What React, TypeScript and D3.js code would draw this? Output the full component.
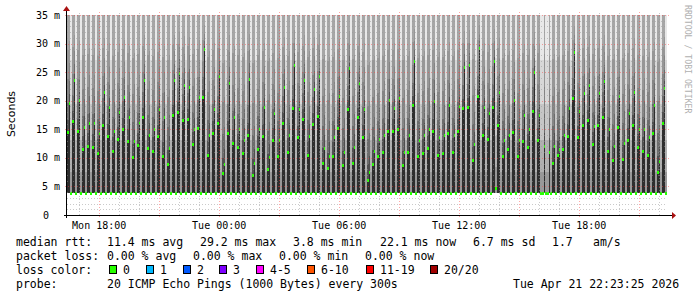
import React from 'react';
import * as d3 from 'd3';

// ---------- data ----------
const END_TIME = new Date(2026, 3, 21, 22, 23, 25);
const STEP_SECONDS = 300;
const STEP_COUNT = 360;

// median rtt (ms) per 15-minute group: first step, second step, third step
const MED_LOW = [
  14.5, 16.3, 14.7, 11.5, 12, 11.9, 10.8, 15.7, 13.8, 11.2, 13.3, 15, 12.8, 10, 12.1, 17, 11.6, 11.2, 13.7, 10.3,
  8.8, 17.5, 18, 16.5, 16.8, 12.3, 15.2, 20.5, 10.5, 14.3, 16, 7.2, 14.3, 12.6, 11.9, 10.7, 14, 7, 11.4, 13.8,
  7.9, 13.1, 10.2, 16.1, 11, 18.7, 13.5, 16.8, 10.5, 15.9, 17.3, 9.1, 8.1, 10.3, 15.2, 8.6, 18.5, 9.1, 17, 13.6,
  6.1, 8.8, 10.2, 10.9, 14.7, 14.7, 15, 8.6, 11, 19.2, 10.2, 10.8, 11.7, 14.7, 10.5, 10.7, 14.2, 11, 14.7, 18.7,
  18.9, 9.6, 20.7, 14, 13.3, 18.9, 15.6, 10.2, 11.4, 14.5, 10.2, 12.9, 11.9, 18.2, 13, 3.8, 3.8, 9.1, 10.5, 11.5,
  13.8, 20.4, 13.5, 15.6, 16.5, 12.3, 15.6, 17, 11.2, 9.5, 15.4, 9.8, 13, 15.6, 11.9, 11.2, 10.5, 14.2, 7.5, 16.1,
];
const MED_HIGH = [
  19.6, 23.5, 20, 15.4, 16, 16, 14.2, 21.4, 18.9, 14.7, 18, 20.5, 17, 12.9, 16, 23.6, 14, 14.9, 18.5, 17,
  11.6, 23.5, 24.8, 22.7, 22.4, 15, 20.6, 28.9, 14, 18.4, 24.3, 8.9, 23.1, 17, 15, 13, 23.8, 9, 15, 18.9,
  10, 17.8, 13, 22.4, 14, 26.1, 18.4, 23.5, 13.8, 22, 24.2, 11.7, 10.3, 13.6, 20.7, 11, 25.6, 11.9, 23.1, 18.5,
  7.5, 11.2, 13.3, 14, 20.1, 18.7, 20.4, 11, 14, 26.8, 13, 14, 15, 19.8, 13.5, 14, 19.1, 14, 19, 25.9,
  26.1, 12.3, 29.1, 18.9, 17.7, 26.8, 21.4, 13.1, 14, 20, 13, 17.5, 15, 25, 17.5, 12, 11, 12, 11.5, 14,
  18.7, 28.5, 18.2, 21.2, 22.6, 15.5, 21.2, 23.3, 14.9, 12, 20.8, 12.6, 17.7, 21.4, 15, 14.9, 13.5, 19.1, 9.3, 22.2,
];
const MED_BASE = [
  3.8, 3.8, 3.8, 3.8, 3.8, 3.8, 3.8, 3.8, 3.8, 3.8, 3.8, 3.8, 3.8, 3.8, 3.8, 3.8, 3.8, 3.8, 3.8, 3.8,
  3.8, 3.8, 3.8, 3.8, 3.8, 3.8, 3.8, 3.8, 3.8, 3.8, 3.8, 3.8, 3.8, 3.8, 3.8, 3.8, 3.8, 3.8, 3.8, 3.8,
  3.8, 3.8, 3.8, 3.8, 3.8, 3.8, 3.8, 3.8, 3.8, 3.8, 3.8, 3.8, 3.8, 3.8, 3.8, 3.8, 3.8, 3.8, 3.8, 3.8,
  3.8, 3.8, 3.8, 3.8, 3.8, 3.8, 3.8, 3.8, 3.8, 3.8, 3.8, 3.8, 3.8, 3.8, 3.8, 3.8, 3.8, 3.8, 3.8, 3.8,
  3.8, 3.8, 3.8, 3.8, 3.8, 4.7, 3.8, 3.8, 3.8, 3.8, 3.8, 3.8, 3.8, 3.8, 3.8, 3.8, 3.8, 3.8, 3.8, 3.8,
  3.8, 3.8, 3.8, 3.8, 3.8, 3.8, 3.8, 3.8, 3.8, 3.8, 3.8, 3.8, 3.8, 3.8, 3.8, 3.8, 3.8, 3.8, 3.8, 3.8,
];
const MIN_RTT = 3.8;

const Y_TICKS = [0, 5, 10, 15, 20, 25, 30, 35];
const Y_TICK_LABELS = ['0', '5 m', '10 m', '15 m', '20 m', '25 m', '30 m', '35 m'];
const X_LABEL_TIMES = [
  new Date(2026, 3, 20, 18), new Date(2026, 3, 21, 0), new Date(2026, 3, 21, 6),
  new Date(2026, 3, 21, 12), new Date(2026, 3, 21, 18),
];

const STAT_RTT = ['median rtt:', '11.4 ms avg', '29.2 ms max', '3.8 ms min', '22.1 ms now', '6.7 ms sd', '1.7', 'am/s'];
const STAT_LOSS = ['packet loss:', '0.00 % avg', '0.00 % max', '0.00 % min', '0.00 % now'];
const LOSS_LABELS = ['0', '1', '2', '3', '4-5', '6-10', '11-19', '20/20'];
const LOSS_COLORS = ['#26ff00', '#00b8ff', '#0059ff', '#7e00ff', '#ff00ff', '#ff5500', '#ff0000', '#a10000'];
const PROBE_TEXT = ['probe:', '20 ICMP Echo Pings (1000 Bytes) every 300s', 'Tue Apr 21 22:23:25 2026'];

// ---------- layout / style ----------
const PL = 67, PR = 667, PT = 15, PB = 215;
const MONO = '"DejaVu Sans Mono", "Liberation Mono", monospace';
const DARK_BANDS: [number, string][] = [
  [1.15, '#a6a6a6'], [0.7, '#969696'], [0.45, '#848484'], [0.25, '#6c6c6c'], [0.1, '#505050'],
];
const LIGHT_BANDS: [number, string][] = [
  [1.15, '#e8e8e8'], [0.75, '#d8d8d8'], [0.5, '#c6c6c6'], [0.3, '#b0b0b0'], [0.12, '#989898'],
];

export default function App() {
  const start = new Date(END_TIME.getTime() - STEP_COUNT * STEP_SECONDS * 1000);
  const x = d3.scaleTime().domain([start, END_TIME]).range([PL, PR]);
  const y = d3.scaleLinear().domain([0, 35]).range([PB, PT]);
  const fmt = d3.timeFormat('%a %H:%M');

  type Step = { k: number; m: number };
  const steps: Step[] = [];
  MED_LOW.forEach((v, p) => {
    steps.push({ k: 3 * p, m: v });
    steps.push({ k: 3 * p + 1, m: MED_HIGH[p] });
    steps.push({ k: 3 * p + 2, m: MED_BASE[p] });
  });
  const tx = (k: number) => x(new Date(start.getTime() + k * STEP_SECONDS * 1000));

  const smoke: React.ReactNode[] = [];
  const dots: React.ReactNode[] = [];
  steps.forEach((s) => {
    const x0 = tx(s.k), x1 = tx(s.k + 1);
    const w = x1 - x0;
    const light = s.m < 5;
    const bands = light ? LIGHT_BANDS : DARK_BANDS;
    const top = 35;
    bands.forEach(([f, c], i) => {
      const hi = s.m + (top - s.m) * f;
      smoke.push(<rect key={`b${s.k}-${i}`} x={x0} width={w} y={y(hi)} height={y(MIN_RTT) - y(hi)} fill={c} />);
    });
    if (!light) {
      smoke.push(<rect key={`c${s.k}`} x={x0} width={w} y={y(s.m)} height={y(MIN_RTT) - y(s.m)} fill="#2e2e2e" />);
    }
    dots.push(<rect key={`d${s.k}`} x={x0} width={w} y={y(s.m) - 1.5} height={3} fill={LOSS_COLORS[0]} />);
  });

  const minorY = d3.range(1, 36).filter((v) => v % 5 !== 0);
  const hourTicks = x.ticks(d3.timeHour.every(1) as any);

  const rttX = [16, 107, 200, 293, 380, 473, 552, 593];
  const lossX = [16, 107, 193, 279, 365];
  const boxX = [109, 146, 183, 219, 256, 307, 366, 430];
  const row = [245.5, 259.5, 273.5, 287.5];

  return (
    <svg width={697} height={297} style={{ position: 'absolute', left: 0, top: 0, background: '#fff' }}>
      <defs>
        <clipPath id="plot">
          <rect x={PL} y={PT} width={PR - PL} height={PB - PT} />
        </clipPath>
      </defs>
      <rect x={0} y={0} width={697} height={297} fill="#fff" />
      <g clipPath="url(#plot)" shapeRendering="crispEdges">
        {smoke}
        {dots}
      </g>
      {/* grid */}
      <g shapeRendering="crispEdges">
        {minorY.map((v) => (
          <line key={`hy${v}`} x1={PL} x2={PR} y1={Math.round(y(v)) + 0.5} y2={Math.round(y(v)) + 0.5}
            stroke="rgba(150,150,150,0.5)" strokeDasharray="1,2" />
        ))}
        {hourTicks.filter((t) => t.getHours() % 3 !== 0).map((t, i) => (
          <line key={`vx${i}`} y1={PT - 2} y2={PB} x1={Math.round(x(t)) + 0.5} x2={Math.round(x(t)) + 0.5}
            stroke="rgba(150,150,150,0.5)" strokeDasharray="1,2" />
        ))}
        {Y_TICKS.filter((v) => v > 0).map((v) => (
          <line key={`my${v}`} x1={PL - 2} x2={PR + 2} y1={Math.round(y(v)) + 0.5} y2={Math.round(y(v)) + 0.5}
            stroke="rgba(255,60,60,0.45)" strokeDasharray="1,2" />
        ))}
        {hourTicks.filter((t) => t.getHours() % 3 === 0).map((t, i) => (
          <line key={`mx${i}`} y1={PT - 3} y2={PB + 3} x1={Math.round(x(t)) + 0.5} x2={Math.round(x(t)) + 0.5}
            stroke="rgba(255,60,60,0.45)" strokeDasharray="1,2" />
        ))}
      </g>
      {/* axes */}
      <g shapeRendering="crispEdges">
        <line x1={PL - 3} x2={PR + 5} y1={PB + 0.5} y2={PB + 0.5} stroke="#000" />
        <line x1={PL - 0.5} x2={PL - 0.5} y1={PB + 3} y2={PT - 4} stroke="#000" />
      </g>
      <path d={`M${PR + 5},${PB - 3} L${PR + 9},${PB + 0.5} L${PR + 5},${PB + 4} Z`} fill="#a11" />
      <path d={`M${PL - 4},${PT - 4} L${PL - 0.5},${PT - 9} L${PL + 3},${PT - 4} Z`} fill="#a11" />
      {/* y labels */}
      {Y_TICKS.map((v, i) => (
        <text key={`yl${v}`} x={Y_TICK_LABELS[i].includes('m') ? 60 : 49} y={y(v) + 3.5} textAnchor="end"
          fontFamily={MONO} fontSize={10} fill="#000">{Y_TICK_LABELS[i]}</text>
      ))}
      {X_LABEL_TIMES.map((t, i) => (
        <text key={`xl${i}`} x={x(t)} y={229} textAnchor="middle" fontFamily={MONO} fontSize={10} fill="#000">{fmt(t)}</text>
      ))}
      <text transform="translate(15,114) rotate(-90)" textAnchor="middle" fontFamily='"DejaVu Sans", sans-serif'
        fontSize={11} fill="#000">Seconds</text>
      <text transform="translate(685,5) rotate(90)" textAnchor="start" fontFamily={MONO} fontSize={8.2}
        fill="#b0b0b0">RRDTOOL / TOBI OETIKER</text>
      {/* legend */}
      <g fontFamily={MONO} fontSize={11.5} fill="#000" style={{ whiteSpace: 'pre' }}>
        {STAT_RTT.map((s, i) => <text key={`r${i}`} x={rttX[i]} y={row[0]}>{s}</text>)}
        {STAT_LOSS.map((s, i) => <text key={`l${i}`} x={lossX[i]} y={row[1]}>{s}</text>)}
        <text x={16} y={row[2]}>loss color:</text>
        {LOSS_LABELS.map((s, i) => (
          <g key={`lc${i}`}>
            <rect x={boxX[i] + 0.5} y={265.5} width={7} height={8} fill={LOSS_COLORS[i]} stroke="#000" shapeRendering="crispEdges" />
            <text x={boxX[i] + 14} y={row[2]}>{s}</text>
          </g>
        ))}
        <text x={16} y={row[3]}>{PROBE_TEXT[0]}</text>
        <text x={107} y={row[3]}>{PROBE_TEXT[1]}</text>
        <text x={513} y={row[3]}>{PROBE_TEXT[2]}</text>
      </g>
    </svg>
  );
}
